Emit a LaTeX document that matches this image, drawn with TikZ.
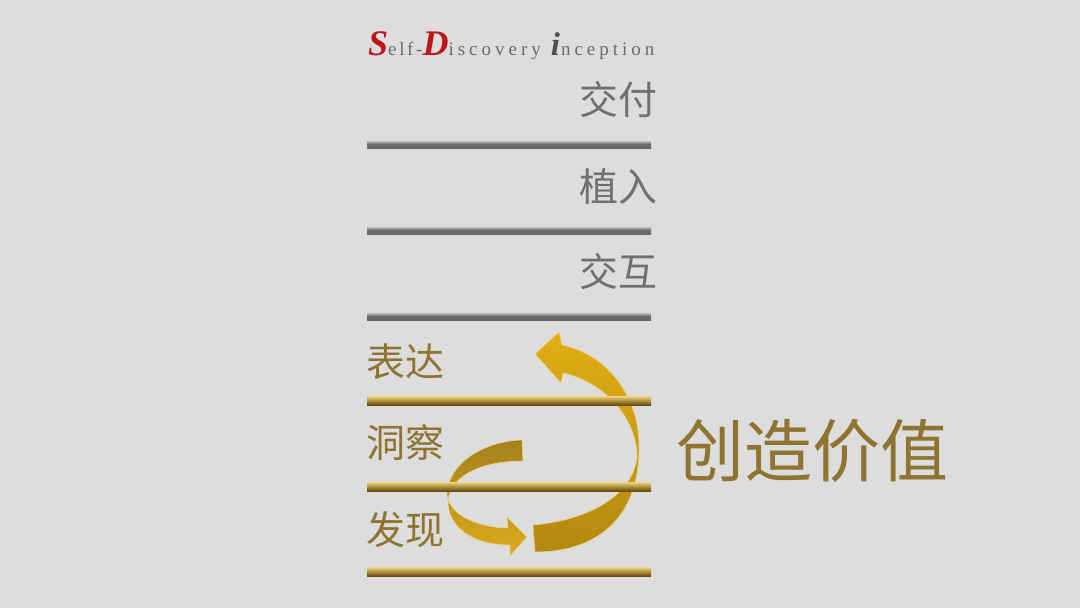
\documentclass[tikz,border=0pt]{standalone}
\usepackage{fontspec}
\newfontfamily\cjk{Noto Sans CJK SC}
\newfontfamily\tfont{Liberation Serif}
\definecolor{bg}{HTML}{DDDDDD}
\definecolor{tred}{HTML}{C0161B}
\definecolor{tgray}{HTML}{6B6B6B}
\definecolor{idark}{HTML}{505050}
\definecolor{cgray}{HTML}{707070}
\definecolor{cgold}{HTML}{8E7430}
\tikzset{
  graybar/.style={top color=white!70!gray, bottom color=black!60, middle color=gray!85!black, draw=none},
  goldbar/.style={top color={rgb,255:red,240;green,215;blue,130}, middle color={rgb,255:red,196;green,150;blue,24}, bottom color={rgb,255:red,105;green,75;blue,6}, draw=none},
  graytext/.style={font=\cjk\fontsize{39}{39}\selectfont, text=cgray, inner sep=0pt},
  goldtext/.style={font=\cjk\fontsize{39}{39}\selectfont, text=cgold, inner sep=0pt},
  bigarrow/.style={top color={rgb,255:red,226;green,174;blue,20}, bottom color={rgb,255:red,178;green,136;blue,16}, draw={rgb,255:red,236;green,210;blue,130}, line width=0.6pt},
  smallarrow/.style={top color={rgb,255:red,165;green,128;blue,30}, bottom color={rgb,255:red,220;green,170;blue,26}, draw={rgb,255:red,236;green,210;blue,130}, line width=0.6pt},
}
\begin{document}
\begin{tikzpicture}[x=1pt,y=-1pt]
\fill[bg] (0,0) rectangle (1080,608);
\useasboundingbox (0,0) rectangle (1080,608);

% title
\node[anchor=base west, inner sep=0pt] (title) at (368,55) {\tfont
{\color{tred}\fontsize{36}{36}\selectfont\bfseries\itshape S}%
{\color{tgray}\fontsize{19}{19}\selectfont\addfontfeature{LetterSpace=14}elf-}%
{\color{tred}\fontsize{36}{36}\selectfont\bfseries\itshape D}%
{\color{tgray}\fontsize{19}{19}\selectfont\addfontfeature{LetterSpace=21}iscovery}\kern 10pt%
{\color{idark}\fontsize{33}{33}\selectfont\bfseries\itshape i}\kern 1pt%
{\color{tgray}\fontsize{19}{19}\selectfont\addfontfeature{LetterSpace=21}nception}};

% arrows
\path[bigarrow] (533,525) .. controls (590,520) and (632,495) .. (637,458)
  .. controls (638,420) and (605,382) .. (563,373) -- (561,383) -- (535,354) -- (559,332) -- (562,345)
  .. controls (610,355) and (640,400) .. (639,448)
  .. controls (639,520) and (595,552) .. (535,552) -- cycle;
\path[smallarrow] (522,440) .. controls (485,441) and (450,462) .. (447,492)
  .. controls (446,515) and (480,528) .. (508,528) -- (507,517) -- (527,537) -- (510,556) -- (510,545)
  .. controls (470,545) and (447,525) .. (448,500)
  .. controls (452,472) and (488,461) .. (523,461) -- cycle;

% bars
\fill[graybar] (367,140) rectangle (651,148);
\fill[graybar] (367,226) rectangle (651,234);
\fill[graybar] (367,312) rectangle (651,320);
\fill[goldbar] (367,396) rectangle (651,405);
\fill[goldbar] (367,482) rectangle (651,491);
\fill[goldbar] (367,567) rectangle (651,576);

% labels
\node[graytext, anchor=east] (jiaofu) at (658,100) {交付};
\node[graytext, anchor=east] (zhiru) at (658,187) {植入};
\node[graytext, anchor=east] (jiaohu) at (658,272) {交互};
\node[goldtext, anchor=west] (biaoda) at (366,362) {表达};
\node[goldtext, anchor=west] (dongcha) at (366,443) {洞察};
\node[goldtext, anchor=west] (faxian) at (366,530) {发现};
\node[font=\cjk\fontsize{68}{68}\selectfont, text=cgold, inner sep=0pt, anchor=west] (value) at (676,451) {创造价值};
\end{tikzpicture}
\end{document}
